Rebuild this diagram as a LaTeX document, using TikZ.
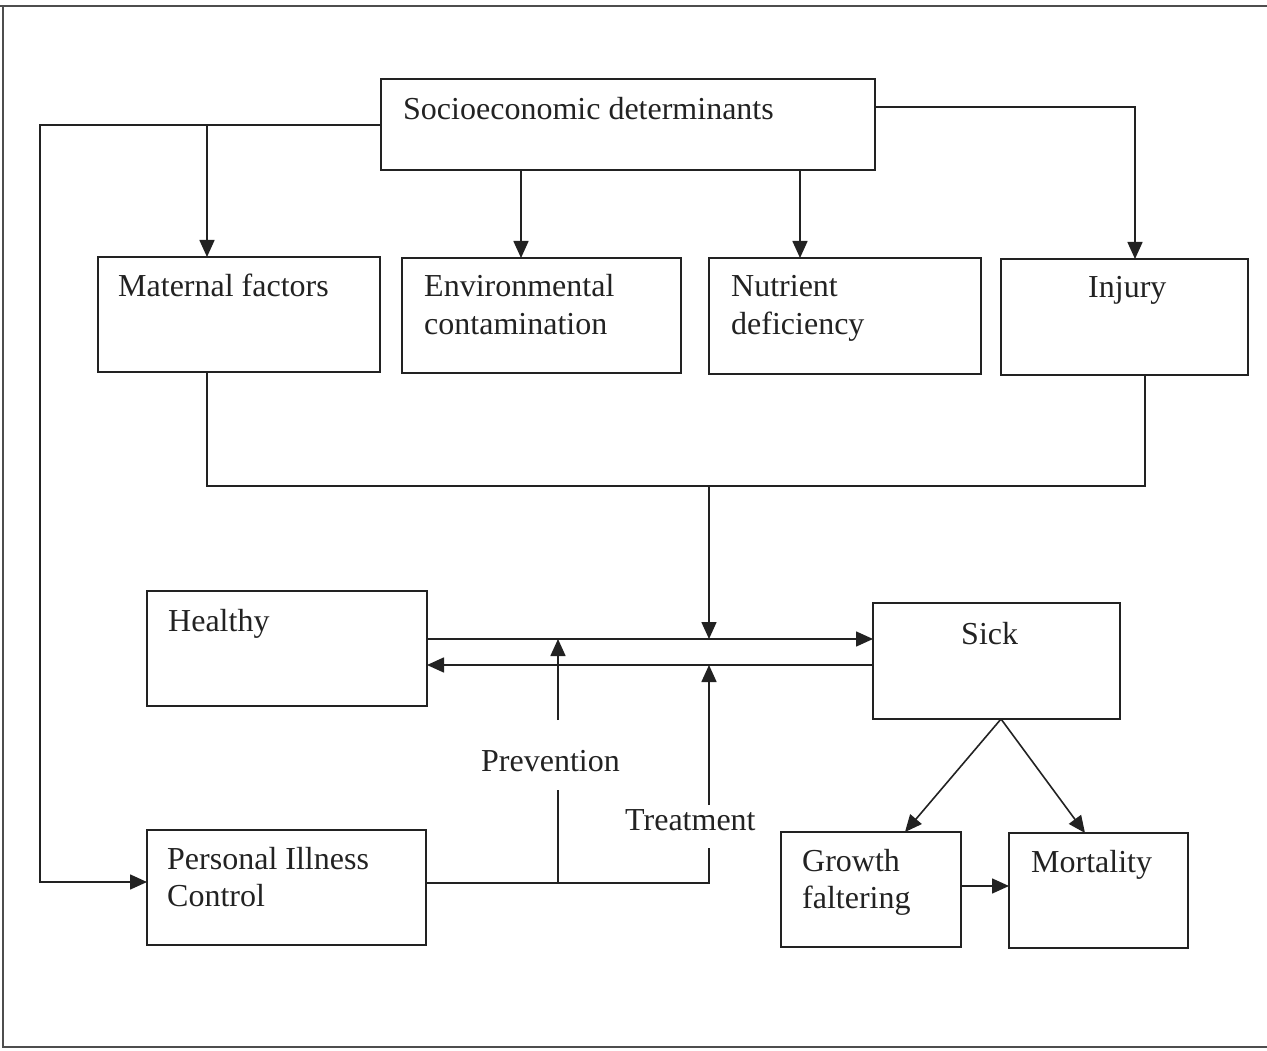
\documentclass[tikz,border=0pt]{standalone}
\usepackage{fontspec}
\setmainfont{Liberation Serif}
\usetikzlibrary{arrows.meta,calc}
\definecolor{ink}{HTML}{222222}
\newcommand{\lbltext}[1]{\parbox[t]{520pt}{\raggedright #1}}
\tikzset{
  box/.style={draw=ink, line width=1.6pt, inner sep=0pt, outer sep=0pt},
  lbl/.style={anchor=base west, inner sep=0pt, text=ink, font=\fontsize{32}{37.5}\selectfont},
  conn/.style={draw=ink, line width=1.6pt},
  arr/.style={conn, -{Triangle[length=17pt,width=15pt]}},
  frame/.style={draw=ink!80, line width=2pt}
}
\begin{document}
\begin{tikzpicture}[x=1pt,y=-1pt]
\useasboundingbox (0,0) rectangle (1267,1051);
% page frame from the scan
\draw[frame] (0,6) -- (1267,6);
\draw[frame] (3,6) -- (3,1047) -- (1267,1047);

% boxes
\node[box, minimum width=494pt, minimum height=91pt] (soc) at (628,124.5) {};
\node[box, minimum width=282pt, minimum height=115pt] (mat) at (239,314.5) {};
\node[box, minimum width=279pt, minimum height=115pt] (env) at (541.5,315.5) {};
\node[box, minimum width=272pt, minimum height=116pt] (nut) at (845,316) {};
\node[box, minimum width=247pt, minimum height=116pt] (inj) at (1124.5,317) {};
\node[box, minimum width=280pt, minimum height=115pt] (hea) at (287,648.5) {};
\node[box, minimum width=247pt, minimum height=116pt] (sick) at (996.5,661) {};
\node[box, minimum width=279pt, minimum height=115pt] (pic) at (286.5,887.5) {};
\node[box, minimum width=180pt, minimum height=115pt] (gro) at (871,889.5) {};
\node[box, minimum width=179pt, minimum height=115pt] (mor) at (1098.5,890.5) {};

% labels
\node[lbl] (tsoc) at (403,120) {\lbltext{Socioeconomic determinants}};
\node[lbl] (tmat) at (118,296) {\lbltext{Maternal factors}};
\node[lbl] (tenv) at (424,297) {\lbltext{Environmental\\contamination}};
\node[lbl] (tnut) at (731,297) {\lbltext{Nutrient\\deficiency}};
\node[lbl] (tinj) at (1088,298) {\lbltext{Injury}};
\node[lbl] (thea) at (168,631) {\lbltext{Healthy}};
\node[lbl] (tsick) at (961,644) {\lbltext{Sick}};
\node[lbl] (tprev) at (481,771) {\lbltext{Prevention}};
\node[lbl] (ttreat) at (625,830) {\lbltext{Treatment}};
\node[lbl] (tpic) at (167,869) {\lbltext{Personal Illness\\Control}};
\node[lbl] (tgro) at (802,871) {\lbltext{Growth\\faltering}};
\node[lbl] (tmor) at (1031,872) {\lbltext{Mortality}};

% helper coordinates
\coordinate (L1) at (40,125);
\coordinate (jm) at (207,125);
\coordinate (a2) at (521,0);
\coordinate (a3) at (800,0);
\coordinate (a4) at (1135,107);
\coordinate (c1) at (207,486);
\coordinate (c2) at (1145,486);
\coordinate (c3) at (709,486);
\coordinate (r1) at (0,639);
\coordinate (r2) at (0,665);
\coordinate (r3) at (0,883);
\coordinate (r4) at (0,886);
\coordinate (rp) at (0,882);
\coordinate (pv) at (558,883);
\coordinate (pvb) at (558,790);
\coordinate (pvt) at (558,720);
\coordinate (tr) at (709,883);
\coordinate (trb) at (709,848);
\coordinate (trt) at (709,805);
\coordinate (apex) at (1001,719);
\coordinate (gtop) at (905,832);
\coordinate (mtop) at (1085,833);

% socioeconomic connectors
\draw[arr] (soc.west |- L1) -- (L1) |- (pic.west |- rp);
\draw[arr] (jm) -- (jm |- mat.north);
\draw[arr] (a2 |- soc.south) -- (a2 |- env.north);
\draw[arr] (a3 |- soc.south) -- (a3 |- nut.north);
\draw[arr] (soc.east |- a4) -| (a4 |- inj.north);

% collector
\draw[conn] (c1 |- mat.south) -- (c1) -- (c2) -- (c2 |- inj.south);
\draw[arr] (c3) -- (c3 |- r1);

% healthy <-> sick
\draw[arr] (hea.east |- r1) -- (sick.west |- r1);
\draw[arr] (sick.west |- r2) -- (hea.east |- r2);

% prevention / treatment
\draw[conn] (pic.east |- r3) -- (tr) -- (trb);
\draw[conn] (pv) -- (pvb);
\draw[arr] (pvt) -- (pvt |- r1);
\draw[arr] (trt) -- (trt |- r2);

% outcomes
\draw[arr] (apex) -- (gtop);
\draw[arr] (apex) -- (mtop);
\draw[arr] (gro.east |- r4) -- (mor.west |- r4);
\end{tikzpicture}
\end{document}
